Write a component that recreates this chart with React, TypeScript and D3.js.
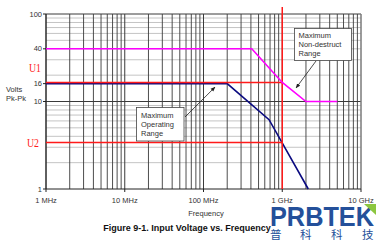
import React from "react";
import * as d3 from "d3";

// Data (frequency in MHz, voltage in Volts Pk-Pk)
const xTickValues = [1, 10, 100, 1000, 10000];
const xTickLabels = ["1 MHz", "10 MHz", "100 MHz", "1 GHz", "10 GHz"];
const yTickValues = [1, 10, 16, 40, 100];
const yTickLabels = ["1", "10", "16", "40", "100"];

const nonDestructFreq = [1, 410, 1000, 2000, 5000];
const nonDestructVolt = [40, 40, 16.5, 10, 10];

const operatingFreq = [1, 200, 680, 2140];
const operatingVolt = [16, 16, 6.2, 1];

const u1Value = 16.5;
const u2Value = 3.4;
const markerFreq = 1000;

const W = 384;
const H = 242;
const L = 46, R = 361, T = 14, B = 189;

export default function App() {
  const x = d3.scaleLog().domain([1, 10000]).range([L, R]);
  const y = d3.scaleLog().domain([1, 100]).range([B, T]);

  const vMinor: number[] = [];
  const hMinor: number[] = [];
  for (let d = 1; d < 10000; d *= 10) for (let k = 2; k <= 9; k++) vMinor.push(d * k);
  for (let d = 1; d < 100; d *= 10) for (let k = 2; k <= 9; k++) hMinor.push(d * k);

  const line = d3
    .line<[number, number]>()
    .x((d) => x(d[0]))
    .y((d) => y(d[1]));

  const nd = nonDestructFreq.map((f, i) => [f, nonDestructVolt[i]] as [number, number]);
  const op = operatingFreq.map((f, i) => [f, operatingVolt[i]] as [number, number]);

  const font = "Arial, 'Liberation Sans', sans-serif";
  const gridDark = "#3a3a3a";
  const gridLight = "#c4c4c4";
  const red = "#ff1a1a";

  const tip1: [number, number] = [x(140), y(14.6)];
  const tip2: [number, number] = [x(1500), y(14.3)];

  return (
    <svg
      width={W}
      height={H}
      style={{ position: "absolute", left: 0, top: 0, background: "#fff" }}
    >
      <defs>
        <marker id="ah" viewBox="0 0 10 10" refX="9" refY="5" markerWidth="6" markerHeight="6" orient="auto">
          <path d="M0,1 L10,5 L0,9 z" fill="#222" />
        </marker>
      </defs>
      <rect width={W} height={H} fill="#fff" />
      {/* horizontal minor grid */}
      {hMinor.map((v) => (
        <line key={"h" + v} x1={L} x2={R} y1={y(v)} y2={y(v)} stroke={gridLight} strokeWidth={1} />
      ))}
      {/* vertical grid */}
      {vMinor.map((v) => (
        <line key={"v" + v} x1={x(v)} x2={x(v)} y1={T} y2={B} stroke={gridDark} strokeWidth={0.9} />
      ))}
      {xTickValues.map((v) => (
        <line key={"vd" + v} x1={x(v)} x2={x(v)} y1={T} y2={B} stroke={gridDark} strokeWidth={1} />
      ))}
      {[10, 100].map((v) => (
        <line key={"hd" + v} x1={L} x2={R} y1={y(v)} y2={y(v)} stroke={gridDark} strokeWidth={1} />
      ))}
      <line x1={R} x2={R} y1={T} y2={B} stroke="#9a9a9a" strokeWidth={1} />
      {/* axes */}
      <line x1={L} x2={L} y1={T} y2={B} stroke="#222" strokeWidth={1} />
      <line x1={L} x2={R} y1={B} y2={B} stroke="#222" strokeWidth={1} />
      {yTickValues.map((v, i) => (
        <g key={"yt" + v}>
          <line x1={L - 3} x2={L} y1={y(v)} y2={y(v)} stroke="#222" />
          <text x={L - 4} y={y(v)} dy="0.35em" textAnchor="end" fontFamily={font} fontSize={7.5} fill="#333">
            {yTickLabels[i]}
          </text>
        </g>
      ))}
      {xTickValues.map((v, i) => (
        <g key={"xt" + v}>
          <line x1={x(v)} x2={x(v)} y1={B} y2={B + 3} stroke="#222" />
          <text x={x(v)} y={B + 14} textAnchor="middle" fontFamily={font} fontSize={7.5} fill="#333">
            {xTickLabels[i]}
          </text>
        </g>
      ))}
      {/* series */}
      <path d={line(op) || ""} fill="none" stroke="#0a0a80" strokeWidth={1.6} />
      <line x1={L} x2={x(markerFreq)} y1={y(u1Value)} y2={y(u1Value)} stroke={red} strokeWidth={1.5} />
      <line x1={L} x2={x(markerFreq)} y1={y(u2Value)} y2={y(u2Value)} stroke={red} strokeWidth={1.5} />
      <line x1={x(markerFreq)} x2={x(markerFreq)} y1={7} y2={B} stroke={red} strokeWidth={1.5} />
      <path d={line(nd) || ""} fill="none" stroke="#ff00ff" strokeWidth={1.6} />

      {/* labels */}
      <text x={29} y={y(u1Value) - 10} fontFamily="'Liberation Serif', 'DejaVu Serif', serif" fontSize={12} fill={red} textLength={12} lengthAdjust="spacingAndGlyphs">
        U1
      </text>
      <text x={27} y={y(u2Value) + 4.5} fontFamily="'Liberation Serif', 'DejaVu Serif', serif" fontSize={12} fill={red} textLength={12} lengthAdjust="spacingAndGlyphs">
        U2
      </text>
      <text x={6} y={92} fontFamily={font} fontSize={7.5} fill="#333">Volts</text>
      <text x={6} y={101} fontFamily={font} fontSize={7.5} fill="#333">Pk-Pk</text>
      <text x={206} y={216} textAnchor="middle" fontFamily={font} fontSize={7.5} fill="#333">Frequency</text>
      <text x={187} y={231} textAnchor="middle" fontFamily={font} fontSize={9} fontWeight="bold" fill="#111">
        Figure 9-1. Input Voltage vs. Frequency
      </text>

      {/* annotations */}
      <line x1={185} y1={117} x2={tip1[0]} y2={tip1[1]} stroke="#222" strokeWidth={0.8} markerEnd="url(#ah)" />
      <rect x={136.5} y={107.5} width={47.5} height={33.5} fill="#fff" stroke="#444" strokeWidth={0.8} />
      <text fontFamily={font} fontSize={7.5} fill="#333">
        <tspan x={141} y={118}>Maximum</tspan>
        <tspan x={141} y={127}>Operating</tspan>
        <tspan x={141} y={136}>Range</tspan>
      </text>
      <line x1={316} y1={61} x2={tip2[0]} y2={tip2[1]} stroke="#222" strokeWidth={0.8} markerEnd="url(#ah)" />
      <rect x={294.5} y={28.5} width={57} height={32} fill="#fff" stroke="#444" strokeWidth={0.8} />
      <text fontFamily={font} fontSize={7.5} fill="#333">
        <tspan x={298.5} y={38}>Maximum</tspan>
        <tspan x={298.5} y={47}>Non-destruct</tspan>
        <tspan x={298.5} y={56}>Range</tspan>
      </text>

      {/* watermark */}
      <text x={270} y={225.5} fontFamily={font} fontSize={28} fontWeight="bold" fill="#24509a" textLength={104} lengthAdjust="spacingAndGlyphs">
        PRBTEK
      </text>
      <path d="M364,204 L376,204 L376,215 Z" fill="#8cc63f" />
      <text fontFamily="'Noto Sans CJK SC', sans-serif" fontSize={11.5} fill="#24509a">
        <tspan x={270} y={239}>普</tspan>
        <tspan x={300} y={239}>科</tspan>
        <tspan x={331} y={239}>科</tspan>
        <tspan x={362} y={239}>技</tspan>
      </text>
    </svg>
  );
}
